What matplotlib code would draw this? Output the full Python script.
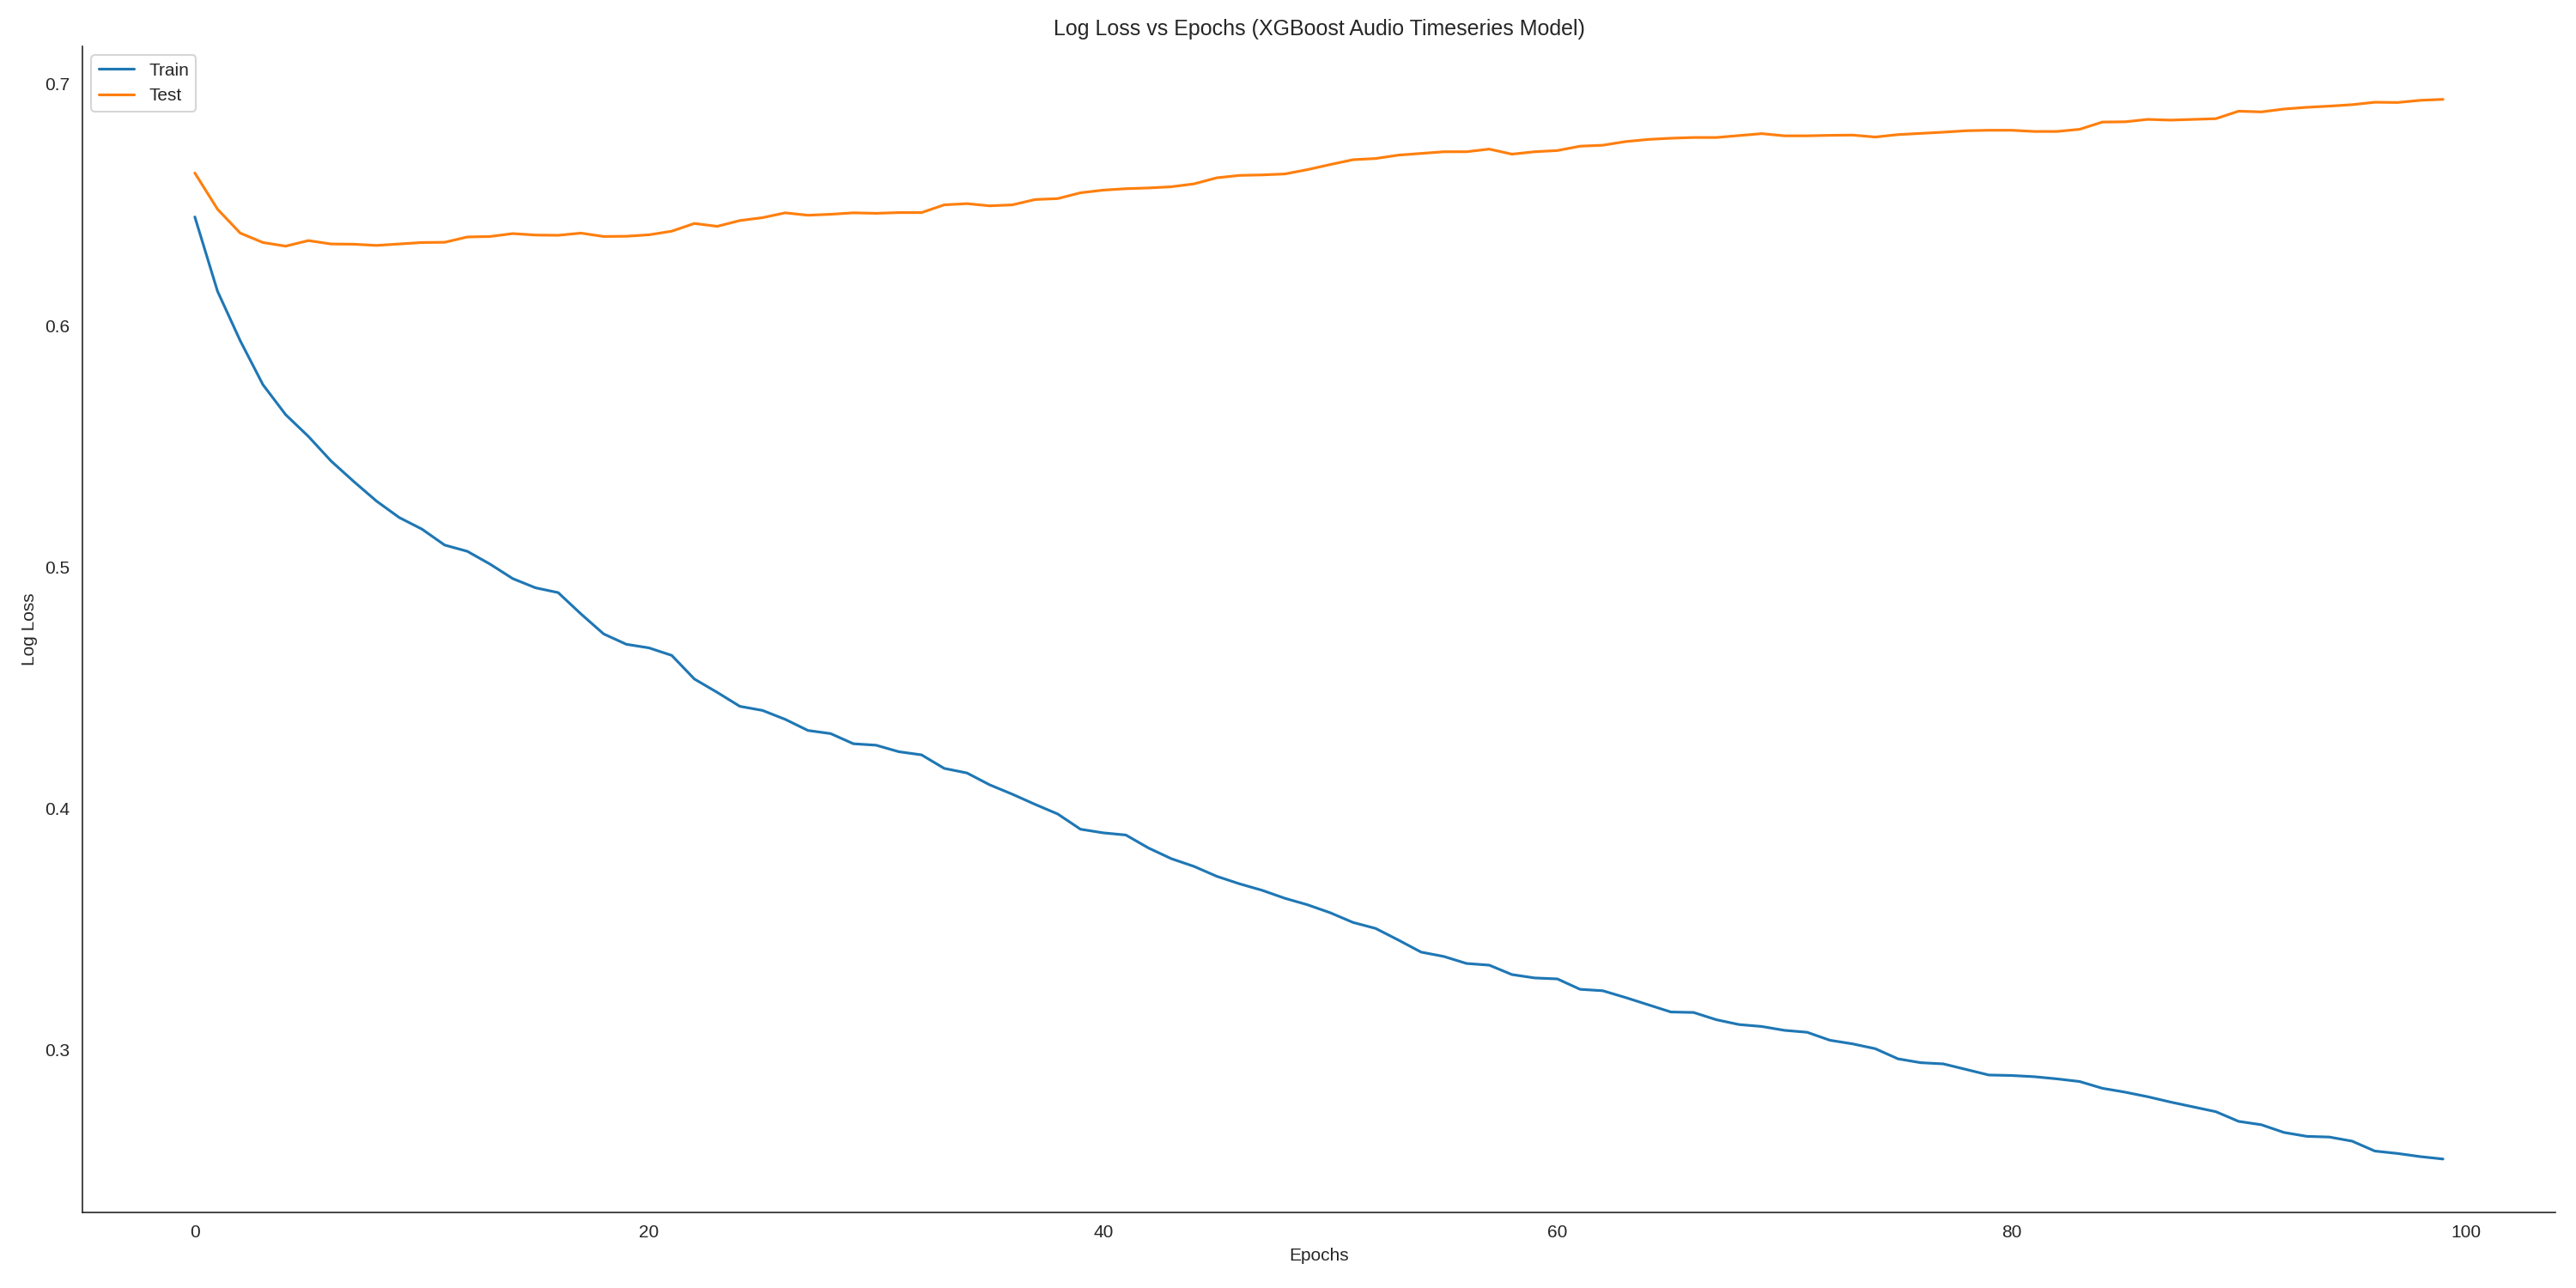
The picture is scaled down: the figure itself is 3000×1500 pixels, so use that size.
import numpy as np
import matplotlib
matplotlib.use("Agg")
import matplotlib.pyplot as plt
import seaborn as sns

# log loss per boosting round
epochs = list(range(100))

train_loss = [
    0.6450, 0.6142, 0.5937, 0.5755, 0.5631, 0.5541, 0.5439, 0.5354, 0.5273, 0.5205,
    0.5157, 0.5091, 0.5065, 0.5012, 0.4952, 0.4914, 0.4894, 0.4806, 0.4723, 0.4680,
    0.4665, 0.4634, 0.4536, 0.4481, 0.4423, 0.4406, 0.4369, 0.4323, 0.4310, 0.4268,
    0.4262, 0.4235, 0.4222, 0.4166, 0.4147, 0.4098, 0.4059, 0.4017, 0.3977, 0.3914,
    0.3899, 0.3890, 0.3836, 0.3792, 0.3760, 0.3719, 0.3688, 0.3661, 0.3628, 0.3601,
    0.3568, 0.3528, 0.3503, 0.3455, 0.3405, 0.3387, 0.3358, 0.3351, 0.3312, 0.3298,
    0.3294, 0.3251, 0.3245, 0.3217, 0.3187, 0.3157, 0.3155, 0.3125, 0.3105, 0.3097,
    0.3081, 0.3073, 0.3040, 0.3025, 0.3005, 0.2963, 0.2947, 0.2942, 0.2919, 0.2896,
    0.2894, 0.2889, 0.2880, 0.2869, 0.2841, 0.2825, 0.2806, 0.2784, 0.2764, 0.2744,
    0.2704, 0.2690, 0.2658, 0.2642, 0.2639, 0.2622, 0.2581, 0.2571, 0.2558, 0.2548,
]

test_loss = [
    0.6632, 0.6482, 0.6383, 0.6344, 0.6329, 0.6352, 0.6338, 0.6337, 0.6332, 0.6338,
    0.6344, 0.6345, 0.6367, 0.6369, 0.6381, 0.6375, 0.6374, 0.6383, 0.6369, 0.6370,
    0.6376, 0.6391, 0.6423, 0.6411, 0.6435, 0.6447, 0.6467, 0.6457, 0.6461, 0.6467,
    0.6465, 0.6468, 0.6468, 0.6500, 0.6505, 0.6496, 0.6500, 0.6522, 0.6526, 0.6550,
    0.6561, 0.6567, 0.6570, 0.6575, 0.6587, 0.6612, 0.6622, 0.6624, 0.6628, 0.6646,
    0.6667, 0.6687, 0.6692, 0.6706, 0.6713, 0.6720, 0.6720, 0.6731, 0.6710, 0.6720,
    0.6725, 0.6743, 0.6747, 0.6762, 0.6771, 0.6776, 0.6779, 0.6779, 0.6787, 0.6795,
    0.6786, 0.6786, 0.6788, 0.6789, 0.6781, 0.6791, 0.6796, 0.6801, 0.6807, 0.6809,
    0.6809, 0.6804, 0.6804, 0.6813, 0.6843, 0.6844, 0.6854, 0.6851, 0.6854, 0.6857,
    0.6888, 0.6885, 0.6897, 0.6904, 0.6909, 0.6915, 0.6925, 0.6924, 0.6933, 0.6937,
]

sns.set_style("white")
# set_style resets the font family, so set it afterwards
plt.rcParams['font.family'] = ['Liberation Sans', 'DejaVu Sans']

fig, ax = plt.subplots(figsize=(20, 10), dpi=150)
ax.plot(epochs, train_loss, label="Train", color="#1f77b4", linewidth=1.5)
ax.plot(epochs, test_loss, label="Test", color="#ff7f0e", linewidth=1.5)

ax.set_title("Log Loss vs Epochs (XGBoost Audio Timeseries Model)")
ax.set_xlabel("Epochs")
ax.set_ylabel("Log Loss")
ax.legend(loc="upper left")
sns.despine()

plt.subplots_adjust(left=0.032, right=0.992, top=0.964, bottom=0.059)
plt.savefig("out.png", dpi=150)
